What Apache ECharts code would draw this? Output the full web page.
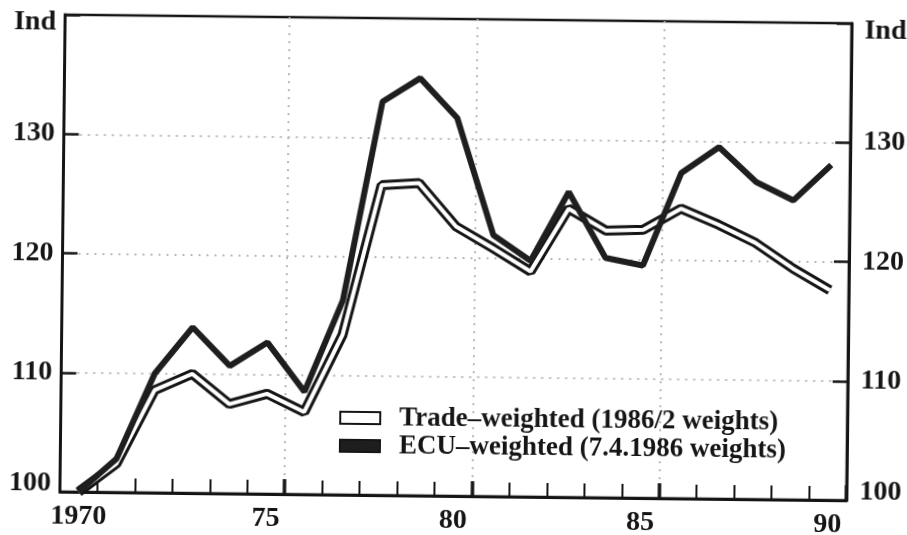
<!DOCTYPE html>
<html>
<head>
<meta charset="utf-8">
<script src="https://cdn.jsdelivr.net/npm/echarts@6/dist/echarts.min.js"></script>
<style>
  html, body { margin: 0; background: #fff; }
  /* the scanned original sits slightly rotated */
  #chart { width: 907px; height: 535px; transform: rotate(0.63deg); transform-origin: 456.5px 257.5px; }
</style>
</head>
<body>
<div id="chart"></div>
<script>
// years, shown as tick labels ('1970', '75', ...)
const years = ['1970', '71', '72', '73', '74', '75', '76', '77', '78', '79', '80',
  '81', '82', '83', '84', '85', '86', '87', '88', '89', '90'];
// index values
const tradeWeighted = [100, 102.4, 108.6, 110.0, 107.5, 108.4, 106.9, 113.4, 126.0, 126.2, 122.6,
  120.8, 118.9, 124.2, 122.4, 122.5, 124.3, 123.0, 121.5, 119.4, 117.6];
const ecuWeighted = [100, 102.8, 110.0, 113.9, 110.7, 112.7, 108.6, 116.3, 133.0, 135.0, 131.7,
  121.9, 119.8, 125.6, 120.1, 119.5, 127.3, 129.5, 126.6, 125.1, 128.1];
const seriesNames = ['Trade–weighted (1986/2 weights)', 'ECU–weighted (7.4.1986 weights)'];
const yMin = 100, yMax = 140, yStep = 10;
const unitLabel = 'Ind';
const labelEvery = 5;
const majorBounds = [6, 11, 16];   // boundaries after 75, 80, 85

const ink = '#151515';
const font = { fontFamily: 'Liberation Serif', fontWeight: 'bold', fontSize: 28, color: ink };

const chart = echarts.init(document.getElementById('chart'));

// y axis settings, used on both sides
// top label ('Ind') sits a bit lower, bottom one a bit higher
const yAxisFor = (pos, withGrid) => ({
  type: 'value',
  position: pos,
  min: yMin,
  max: yMax,
  interval: yStep,
  axisLine: { show: true, lineStyle: { color: ink, width: 3 } },
  axisTick: { show: true, inside: true, length: 15, lineStyle: { color: ink, width: 2.5 } },
  axisLabel: Object.assign({
    margin: pos === 'left' ? 9 : 13,
    formatter: v => v === yMax ? '{top|' + unitLabel + '}' : v === yMin ? '{low|' + v + '}' : String(v),
    rich: {
      top: Object.assign({ padding: [16, 0, 0, 0] }, font),
      low: Object.assign({ padding: [0, 0, 16, 0] }, font)
    }
  }, font),
  splitLine: { show: withGrid, showMinLine: false, showMaxLine: false,
    lineStyle: { color: '#b8b8b8', type: [2, 6], width: 2 } }
});

chart.setOption({
  animation: false,
  backgroundColor: '#fff',
  grid: { left: 62.5, top: 19, width: 788, height: 477, show: true, borderColor: ink, borderWidth: 2.5 },
  legend: {
    orient: 'vertical',
    left: 336,
    top: 400,
    icon: 'rect',
    itemWidth: 40,
    itemHeight: 12,
    itemGap: 0,
    data: seriesNames,
    itemStyle: { borderColor: ink, borderWidth: 2 },
    textStyle: Object.assign({}, font, { fontSize: 27, lineHeight: 28, padding: [0, 0, 0, 14] })
  },
  xAxis: [
    {
      type: 'category',
      data: years,
      boundaryGap: true,
      axisLine: { show: true, lineStyle: { color: ink, width: 3 } },
      axisTick: { show: true, inside: true, interval: 0, length: 14, lineStyle: { color: ink, width: 2 } },
      axisLabel: Object.assign({ interval: i => i % labelEvery === 0, margin: 11 }, font),
      splitLine: { show: false }
    },
    {
      // heavier ticks and dotted verticals every five years
      type: 'category',
      data: years,
      boundaryGap: true,
      position: 'bottom',
      axisLine: { show: false },
      axisLabel: { show: false },
      axisTick: { show: true, inside: true, length: 15, interval: i => majorBounds.includes(i),
        lineStyle: { color: ink, width: 3.5 } },
      splitLine: { show: true, interval: i => majorBounds.includes(i),
        lineStyle: { color: '#b8b8b8', type: [2, 6], width: 2 } }
    }
  ],
  yAxis: [yAxisFor('left', true), yAxisFor('right', false)],
  series: [
    {
      name: 'outline',
      type: 'line',
      data: tradeWeighted,
      symbol: 'none',
      color: ink,
      lineStyle: { color: ink, width: 10 },
      silent: true
    },
    {
      name: seriesNames[0],
      type: 'line',
      data: tradeWeighted,
      symbol: 'none',
      color: '#ffffff',
      lineStyle: { color: '#ffffff', width: 4 }
    },
    {
      name: seriesNames[1],
      type: 'line',
      data: ecuWeighted,
      symbol: 'none',
      color: '#1e1e1e',
      lineStyle: { color: '#1e1e1e', width: 6 }
    }
  ]
});
</script>
</body>
</html>
